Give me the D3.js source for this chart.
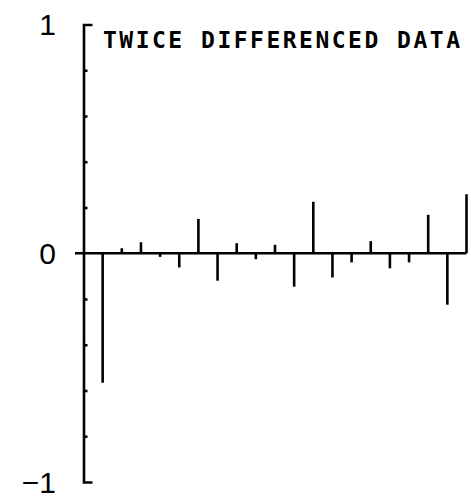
<!DOCTYPE html>
<html>
<head>
<meta charset="utf-8">
<script src="https://cdn.jsdelivr.net/npm/d3@7"></script>
<style>
  html, body { margin: 0; padding: 0; background: #fff; }
  svg { display: block; }
</style>
</head>
<body>
<div id="chart"></div>
<script>
// ---- data ----
const title = "TWICE DIFFERENCED DATA";
const lags = [1,2,3,4,5,6,7,8,9,10,11,12,13,14,15,16,17,18,19,20];
const acf  = [-0.566, 0.022, 0.048, -0.016, -0.062, 0.150, -0.120, 0.044, -0.026, 0.037,
              -0.146, 0.225, -0.106, -0.040, 0.053, -0.066, -0.040, 0.168, -0.225, 0.258];
const yTickLabels = [{v: 1, t: "1"}, {v: 0, t: "0"}, {v: -1, t: "\u22121"}];
const yMinorTicks = [-0.8, -0.6, -0.4, -0.2, 0.2, 0.4, 0.6, 0.8];

// ---- layout ----
const W = 471, H = 498;
const svg = d3.select("#chart").append("svg").attr("width", W).attr("height", H);

const x = d3.scaleLinear().domain([0, 20]).range([83.5, 466.5]);
const y = d3.scaleLinear().domain([-1, 1]).range([482, 24.5]);
const SW = 2.6;

// y axis with bracket ends (outer ticks) and small inner ticks
const yAxis = d3.axisRight(y)
  .tickValues(yMinorTicks)
  .tickSize(4)
  .tickSizeOuter(9)
  .tickFormat("");
const gy = svg.append("g").attr("transform", `translate(${x(0)},0)`).call(yAxis);
gy.select(".domain").attr("stroke", "#000").attr("stroke-width", SW).attr("fill", "none");
gy.selectAll(".tick line").attr("stroke", "#000").attr("stroke-width", SW);

// zero line
svg.append("line")
  .attr("x1", x(0) - 8.5).attr("x2", x(20))
  .attr("y1", y(0)).attr("y2", y(0))
  .attr("stroke", "#000").attr("stroke-width", SW);

// spikes
svg.append("g").selectAll("line.spike")
  .data(lags.map((l, i) => ({l, v: acf[i]})))
  .join("line")
  .attr("class", "spike")
  .attr("x1", d => x(d.l)).attr("x2", d => x(d.l))
  .attr("y1", y(0)).attr("y2", d => y(d.v))
  .attr("stroke", "#000").attr("stroke-width", SW);

// y labels
svg.append("g").selectAll("text")
  .data(yTickLabels)
  .join("text")
  .attr("x", 56)
  .attr("y", d => y(d.v) + 10.5)
  .attr("text-anchor", "end")
  .attr("font-family", "Liberation Sans, Arial, sans-serif")
  .attr("font-size", 30)
  .attr("fill", "#000")
  .text(d => d.t);

// title
svg.append("text")
  .attr("x", 103)
  .attr("y", 48)
  .attr("font-family", "DejaVu Sans Mono, monospace")
  .attr("font-size", 23)
  .attr("font-weight", "bold")
  .attr("textLength", 357)
  .attr("lengthAdjust", "spacing")
  .attr("fill", "#000")
  .text(title);
</script>
</body>
</html>
